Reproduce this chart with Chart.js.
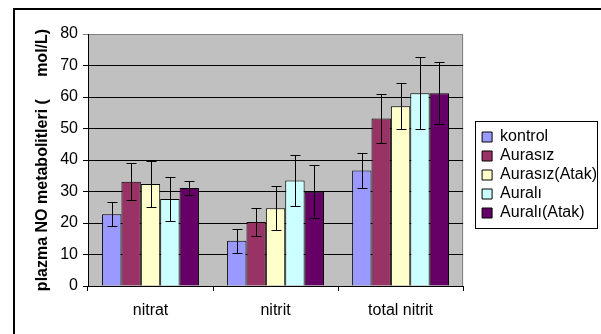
<!DOCTYPE html>
<html lang="en">
<head>
    <meta charset="UTF-8">
    <script src="https://cdn.jsdelivr.net/npm/chart.js@4.4.0/dist/chart.umd.min.js"></script>
    <title>plazma NO metabolitleri</title>
    <style>
        body { margin: 0; background: #fff; }
        #wrap { width: 601px; height: 334px; position: relative; }
    </style>
</head>
<body>
    <div id="wrap"><canvas id="chart" width="601" height="334"></canvas></div>

    <script>
        // categories on the x axis
        const categories = ['nitrat', 'nitrit', 'total nitrit'];

        // mean values per group
        const kontrol = [22.8, 14.4, 36.7];
        const aurasiz = [33.1, 20.3, 53.2];
        const aurasizAtak = [32.4, 24.7, 57.1];
        const aurali = [27.6, 33.5, 61.2];
        const auraliAtak = [31.1, 29.9, 61.2];

        // error bar half-widths (+/-)
        const kontrolErr = [3.8, 3.8, 5.6];
        const aurasizErr = [5.8, 4.4, 7.9];
        const aurasizAtakErr = [7.3, 6.9, 7.2];
        const auraliErr = [7.1, 8.2, 11.4];
        const auraliAtakErr = [2.2, 8.4, 9.9];

        const yTicks = [0, 10, 20, 30, 40, 50, 60, 70, 80];
        const font = 'Liberation Sans, Arial, sans-serif';

        function ds(label, data, err, color) {
            return {
                label: label,
                data: data,
                err: err,
                backgroundColor: color,
                borderColor: '#000',
                borderWidth: 1,
                barPercentage: 1.0,
                categoryPercentage: 0.775
            };
        }

        // gray plot area + outer frame
        const background = {
            id: 'background',
            beforeDraw(chart) {
                const c = chart.ctx, a = chart.chartArea;
                c.save();
                c.fillStyle = '#c0c0c0';
                c.fillRect(a.left, a.top, a.right - a.left, a.bottom - a.top);
                c.strokeStyle = '#808080';
                c.lineWidth = 1;
                c.beginPath();
                c.moveTo(a.left, a.top + 0.5);
                c.lineTo(a.right - 0.5, a.top + 0.5);
                c.lineTo(a.right - 0.5, a.bottom);
                c.stroke();
                c.strokeStyle = '#000';
                c.lineWidth = 2;
                c.strokeRect(14, 9, 700, 400);
                c.restore();
            }
        };

        // error bars drawn through the y scale
        const errorBars = {
            id: 'errorBars',
            afterDatasetsDraw(chart) {
                const c = chart.ctx, y = chart.scales.y;
                c.save();
                c.strokeStyle = '#000';
                c.lineWidth = 1;
                chart.data.datasets.forEach((d, i) => {
                    chart.getDatasetMeta(i).data.forEach((bar, j) => {
                        const x = Math.round(bar.x) + 0.5;
                        const hi = Math.round(y.getPixelForValue(d.data[j] + d.err[j])) + 0.5;
                        const lo = Math.round(y.getPixelForValue(d.data[j] - d.err[j])) + 0.5;
                        c.beginPath();
                        c.moveTo(x, hi); c.lineTo(x, lo);
                        c.moveTo(x - 5, hi); c.lineTo(x + 5, hi);
                        c.moveTo(x - 5, lo); c.lineTo(x + 5, lo);
                        c.stroke();
                    });
                });
                c.restore();
            }
        };

        // push the legend a bit away from the plot, then frame it
        const legendBox = {
            id: 'legendBox',
            afterLayout(chart) {
                const lg = chart.legend;
                lg.left += 16;
                lg.right += 16;
                lg.top -= 9;
                lg.bottom -= 9;
            },
            afterDraw(chart) {
                const boxes = chart.legend.legendHitBoxes;
                if (!boxes.length) return;
                const left = Math.min(...boxes.map(b => b.left));
                const top = Math.min(...boxes.map(b => b.top));
                const bottom = Math.max(...boxes.map(b => b.top + b.height));
                const c = chart.ctx;
                c.save();
                c.strokeStyle = '#000';
                c.lineWidth = 1;
                c.strokeRect(Math.round(left) - 6.5, Math.round(top) - 7.5, 122, Math.round(bottom - top) + 15);
                c.restore();
            }
        };

        new Chart(document.getElementById('chart'), {
            type: 'bar',
            data: {
                labels: categories,
                datasets: [
                    ds('kontrol', kontrol, kontrolErr, '#9999ff'),
                    ds('Aurasız', aurasiz, aurasizErr, '#993366'),
                    ds('Aurasız(Atak)', aurasizAtak, aurasizAtakErr, '#ffffcc'),
                    ds('Auralı', aurali, auraliErr, '#ccffff'),
                    ds('Auralı(Atak)', auraliAtak, auraliAtakErr, '#660066')
                ]
            },
            options: {
                responsive: false,
                animation: false,
                layout: { padding: { left: 25, top: 34, right: 10, bottom: 0 } },
                plugins: {
                    tooltip: { enabled: false },
                    legend: {
                        position: 'right',
                        labels: {
                            color: '#000',
                            font: { family: font, size: 16 },
                            boxWidth: 10,
                            boxHeight: 10,
                            padding: 3
                        }
                    }
                },
                scales: {
                    x: {
                        afterFit(scale) { scale.height = 48; },
                        grid: { display: true, drawOnChartArea: false, color: '#000', tickLength: 5 },
                        border: { color: '#000' },
                        ticks: { color: '#000', padding: 10, font: { family: font, size: 16 } }
                    },
                    y: {
                        min: 0,
                        max: 80,
                        afterFit(scale) { scale.width = 63; },
                        afterBuildTicks(axis) { axis.ticks = yTicks.map(v => ({ value: v })); },
                        grid: {
                            color: ctx => ctx.tick && ctx.tick.value === 80 ? '#808080' : '#000',
                            tickLength: 5
                        },
                        border: { color: '#000' },
                        ticks: { color: '#000', padding: 5, font: { family: font, size: 16 } },
                        title: {
                            display: true,
                            text: 'plazma NO metabolitleri (     mol/L)',
                            color: '#000',
                            font: { family: font, size: 16, weight: 'bold' },
                            padding: 8
                        }
                    }
                }
            },
            plugins: [background, errorBars, legendBox]
        });
    </script>
</body>
</html>
